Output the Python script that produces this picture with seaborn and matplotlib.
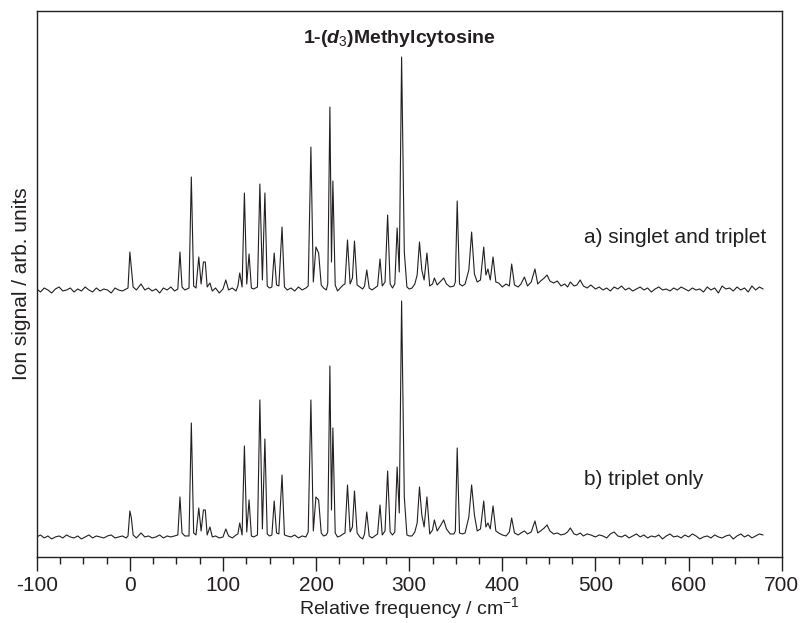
import numpy as np
import matplotlib
matplotlib.use('Agg')
import matplotlib.pyplot as plt
from matplotlib.ticker import MultipleLocator
import seaborn as sns

# relative frequency (cm-1), shared by both traces
freq = [
    -100, -96, -92, -88, -84, -80, -76, -72, -68, -64, -60, -56, -52, -48, -44,
    -40, -36, -32, -28, -24, -20, -16, -12, -8, -4,
    -2, 0, 1.6, 3.5, 7, 12, 16,
    20, 24, 28, 32, 36, 40, 44, 48,
    51.5, 53.8, 56, 59, 63.5, 66, 68.5, 71,
    74, 76.5, 79, 81, 83, 86, 88.5,
    92, 96, 100, 103, 106, 110, 114,
    116, 118, 120.5, 123, 125.5, 128, 130.5, 133,
    137, 139.6, 142.3, 145, 147.5, 150,
    152.5, 155, 157.5, 160, 163.4, 166, 169,
    173, 177, 181, 185, 189,
    191.5, 194.4, 197, 199.8, 202.7, 205.5, 208,
    211, 212.5, 214.8, 216.5, 218, 220.5, 223, 226, 229,
    231, 233.7, 236.5, 239, 241.2, 244, 247,
    250, 252, 254.4, 257, 260, 263,
    266, 268.6, 271, 274, 276.8, 279.5, 282,
    284.5, 287, 289.3, 291.8, 294.7, 297.5, 300, 303, 306,
    308.5, 311, 313.5, 316, 319, 322,
    325, 327, 330, 334, 337, 340, 344, 348,
    349.5, 351.5, 354, 357, 360, 364, 367, 370, 373,
    376.5, 380, 382.3, 384.5, 387, 390, 393, 396,
    400, 404, 407.5, 410, 413, 417, 420, 423.7, 427, 431,
    435, 438, 441, 445, 448, 451, 455, 459, 463, 467,
    470, 473, 477, 480, 483.6, 487, 491, 495,
    500, 504, 508, 512, 516, 520, 524, 528, 532, 536,
    540, 544, 548, 552, 556, 560, 564, 568, 572, 576,
    580, 584, 588, 592, 596, 600, 604, 608, 612, 616,
    620, 624, 628, 632, 636, 640, 644, 648, 652, 656,
    660, 664, 668, 672, 676, 680,
]

# a) singlet and triplet
signal_a = [
    1, -2, 2, 0, -3, 1, 3, -1, 0, 2, -2, 1, -1, 3, 0,
    -2, 2, -1, 1, 0, -3, 2, 0, -1, 1,
    2, 38, 22, 3, 0, 6, 0,
    2, -1, 1, -3, 2, 0, 3, -1,
    1, 38, 3, 0, 2, 113, 4, 2,
    33, 6, 28, 28, 3, 7, -1,
    2, -3, 1, 10, 0, 2, -1,
    4, 17, 3, 97, 6, 36, 2, 1,
    3, 106, 10, 97, 4, 2,
    3, 37, 5, 4, 63, 3, 0,
    2, -1, 3, 0, 2,
    4, 143, 8, 43, 37, 5, 2,
    0, 6, 183, 28, 109, 5, -1, 2, 5,
    6, 50, 6, 12, 49, 5, 3,
    1, 4, 20, 2, 0, 2,
    4, 31, 4, 8, 75, 6, 2,
    6, 62, 18, 233, 38, 3, 1, 2, 6,
    15, 48, 20, 10, 37, 4,
    6, 12, 5, 9, 12, 6, 3, 4,
    8, 89, 6, 4, 6, 20, 58, 16, 8,
    10, 43, 15, 21, 10, 33, 8, 7,
    3, 6, 4, 26, 5, 3, 6, 13, 4, 8,
    21, 6, 9, 12, 15, 9, 7, 9, 4, 6,
    3, 8, 4, 5, 10, 4, 2, 5,
    1, 3, 0, 2, -1, 3, 1, 4, 0, 2,
    -1, 1, 3, 0, 2, -2, 1, 3, 0, 1,
    -1, 2, 0, 3, 1, -1, 2, 0, 1, -2,
    3, 0, 2, -3, 4, 1, 2, -1, 3, 0,
    2, -2, 4, 0, 3, 1,
]

# b) triplet only
signal_b = [
    0, 2, -1, 1, -2, 0, 1, -1, 2, 0, -1, 1, -2, 0, 2,
    -1, 1, 0, -1, 1, 2, -1, 0, 1, -1,
    1, 26, 19, 2, -1, 4, 0,
    1, -1, 0, 2, -1, 1, 0, 1,
    2, 40, 4, 1, 1, 114, 4, 2,
    29, 6, 27, 27, 2, 10, 0,
    1, -1, 0, 8, 1, -1, 2,
    3, 14, 2, 91, 5, 37, 1, 0,
    2, 137, 8, 98, 3, 1,
    2, 36, 4, 3, 62, 2, 1,
    0, 2, -1, 1, 0,
    5, 137, 6, 40, 37, 4, 1,
    2, 5, 171, 27, 109, 4, 0, 1, 3,
    4, 52, 5, 10, 46, 4, 0,
    -2, 3, 25, 1, -1, 1,
    3, 32, 2, 6, 66, 5, 2,
    5, 70, 24, 236, 40, 2, 1, 1, 5,
    14, 50, 22, 10, 40, 3,
    7, 17, 6, 12, 17, 8, 3, 3,
    6, 89, 4, 3, 4, 20, 52, 22, 6,
    8, 36, 10, 14, 8, 31, 6, 4,
    2, 1, 5, 19, 4, 2, 4, 6, 3, 5,
    16, 4, 6, 9, 12, 6, 3, 4, 2, 3,
    5, 9, 3, 2, 4, 1, 3, 2,
    0, 2, 1, -1, 3, 5, 1, 0, 2, -1,
    1, 3, 0, 2, -1, 1, 0, 2, -2, 1,
    3, 0, 1, -1, 2, 0, 3, 1, -2, 0,
    1, -1, 2, 0, -1, 1, 2, -2, 1, 3,
    0, 2, -1, 1, 3, 2,
]

assert len(freq) == len(signal_a) == len(signal_b)

freq = np.array(freq, dtype=float)
signal_a = np.array(signal_a, dtype=float)
signal_b = np.array(signal_b, dtype=float)

ink = '#231f20'
offset_a = 247  # vertical stacking of trace a) above trace b)

sns.set_theme(style='white')
plt.rcParams['font.family'] = ['Liberation Sans', 'DejaVu Sans']
plt.rcParams['mathtext.fontset'] = 'custom'
plt.rcParams['mathtext.rm'] = 'Liberation Sans'
plt.rcParams['mathtext.it'] = 'Liberation Sans:italic:bold'
plt.rcParams['axes.unicode_minus'] = False

fig, ax = plt.subplots(figsize=(8.04, 6.23), dpi=100)
fig.subplots_adjust(left=0.0457, right=0.9723, top=0.9823, bottom=0.106)

sns.lineplot(x=freq, y=signal_b, color=ink, lw=0.8, estimator=None, sort=False, ax=ax)
sns.lineplot(x=freq, y=signal_a + offset_a, color=ink, lw=0.8, estimator=None, sort=False, ax=ax)

ax.set_xlim(-100, 700)
ax.set_ylim(-20, 526)
ax.xaxis.set_major_locator(MultipleLocator(100))
ax.xaxis.set_minor_locator(MultipleLocator(25))
ax.set_yticks([])
ax.tick_params(axis='x', which='major', bottom=True, top=False, direction='out',
               length=10, width=1, color=ink, labelsize=15, labelcolor=ink, pad=4)
ax.tick_params(axis='x', which='minor', bottom=True, top=False, direction='out',
               length=5, width=1, color=ink)
for sp in ax.spines.values():
    sp.set_color(ink)
    sp.set_linewidth(1.0)

ax.set_xlabel('Relative frequency / cm$^{-1}$', fontsize=14, color=ink, labelpad=0)
ax.set_ylabel('Ion signal / arb. units', fontsize=15, color=ink, labelpad=4)

ax.text(0.486, 0.95, r'1-($\mathit{d_3}$)Methylcytosine', transform=ax.transAxes,
        ha='center', va='center', fontsize=14, fontweight='bold', color=ink)
ax.text(488, 300, 'a) singlet and triplet', ha='left', va='center', fontsize=15, color=ink)
ax.text(488, 57, 'b) triplet only', ha='left', va='center', fontsize=15, color=ink)

fig.savefig('out.png', dpi=100)
